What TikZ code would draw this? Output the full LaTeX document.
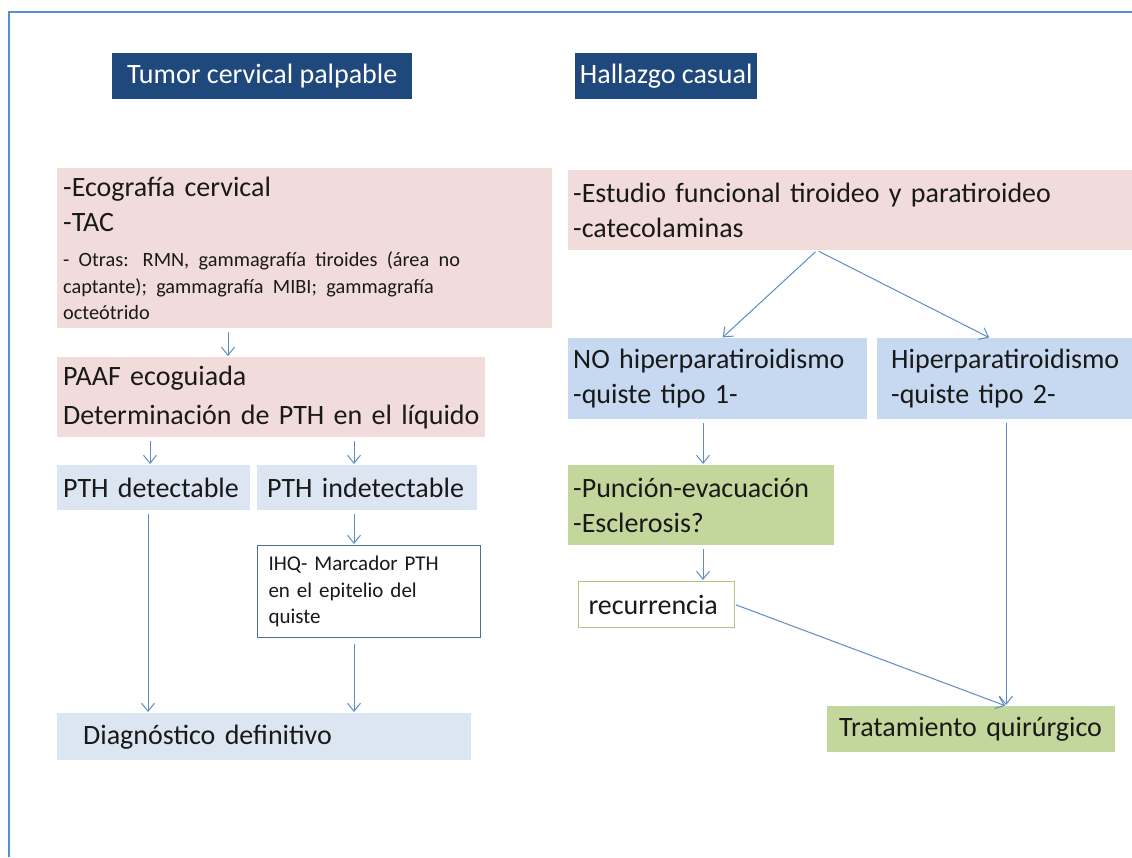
\documentclass[tikz,border=0pt]{standalone}
\usepackage{fontspec}
\setmainfont{Carlito}
\usetikzlibrary{arrows.meta}
\definecolor{ttl}{RGB}{31,73,125}
\definecolor{pinkf}{RGB}{242,220,219}
\definecolor{lblue}{RGB}{220,230,242}
\definecolor{mblue}{RGB}{198,217,241}
\definecolor{greenf}{RGB}{195,214,155}
\definecolor{arrc}{RGB}{95,140,195}
\definecolor{framec}{RGB}{85,142,213}
\definecolor{ihqb}{RGB}{79,110,160}
\definecolor{recb}{RGB}{175,195,130}
\definecolor{txt}{RGB}{25,25,25}
\begin{document}
\begin{tikzpicture}[x=1pt,y=-1pt,
  box/.style={anchor=north west, inner xsep=6pt, inner ysep=0pt, align=left, text=txt, font=\fontsize{28}{35}\selectfont},
  smallbox/.style={box, font=\fontsize{21}{26.5}\selectfont},
  ttlbox/.style={anchor=north west, fill=ttl, text=white, inner sep=0pt, align=center, font=\fontsize{28}{34}\selectfont},
  arr/.style={draw=arrc, line width=1pt, -{Straight Barb[length=8pt,width=13pt]}, shorten <=4pt, shorten >=1pt},
]
\useasboundingbox (0,0) rectangle (1132,857);
\fill[white] (0,0) rectangle (1132,857);
\draw[framec, line width=2pt] (1132,12) -- (9,12) -- (9,857);

% titles
\node[ttlbox, minimum width=300pt, minimum height=46pt] (t1) at (112,53) {Tumor cervical palpable};
\node[ttlbox, minimum width=182pt, minimum height=46pt] (t2) at (575,53) {Hallazgo casual};

% left column
\node[box, fill=pinkf, text width=483pt, minimum height=160pt] (p1) at (57,168)
  {\mbox{-Ecografía cervical}\\\mbox{-TAC}\par\vspace{9pt}{\fontsize{20.3}{26.5}\selectfont \mbox{- Otras: RMN, gammagrafía tiroides (área no}\\\mbox{captante); gammagrafía MIBI; gammagrafía}\\\mbox{octeótrido}\par}};
\node[box, fill=pinkf, text width=416pt, minimum height=80pt, font=\fontsize{28}{39}\selectfont] (paaf) at (57,357)
  {\mbox{PAAF ecoguiada}\\\mbox{Determinación de PTH en el líquido}};
\node[box, fill=lblue, text width=181pt, minimum height=45pt] (det) at (57,465) {\mbox{PTH detectable}};
\node[box, fill=lblue, inner xsep=10pt, text width=200pt, minimum height=45pt] (indet) at (257,465) {\mbox{PTH indetectable}};
\node[smallbox, draw=ihqb, line width=1pt, fill=white, inner xsep=11pt, text width=201pt, minimum height=92pt] (ihq) at (257,545)
  {\mbox{IHQ- Marcador PTH}\\\mbox{en el epitelio del}\\\mbox{quiste}};
\node[box, fill=lblue, text width=402pt, minimum height=47pt] (diag) at (57,713) {\hspace*{20pt}\mbox{Diagnóstico definitivo}};

% right column
\node[box, fill=pinkf, inner xsep=5pt, text width=554pt, minimum height=80pt] (p2) at (568,170)
  {\mbox{-Estudio funcional tiroideo y paratiroideo}\\\mbox{-catecolaminas}};
\node[box, fill=mblue, inner xsep=5pt, text width=289pt, minimum height=81pt] (no) at (568,338)
  {\mbox{NO hiperparatiroidismo}\\\mbox{-quiste tipo 1-}};
\node[box, fill=mblue, inner xsep=14pt, text width=227pt, minimum height=81pt] (hiper) at (877,338)
  {\mbox{Hiperparatiroidismo}\\\mbox{-quiste tipo 2-}};
\node[box, fill=greenf, inner xsep=5pt, text width=256pt, minimum height=80pt] (green) at (568,465)
  {\mbox{-Punción-evacuación}\\\mbox{-Esclerosis?}};
\node[box, draw=recb, line width=1pt, fill=white, inner xsep=10pt, text width=136pt, minimum height=46pt] (rec) at (578,581) {\mbox{recurrencia}};
\node[box, fill=greenf, inner xsep=12pt, text width=264pt, minimum height=46pt] (trat) at (827,706) {\mbox{Tratamiento quirúrgico}};

% connector x positions
\coordinate (xa) at (228,0);
\coordinate (xb) at (150,0);
\coordinate (xc) at (354,0);
\coordinate (xd) at (148,0);
\coordinate (xe) at (817,0);
\coordinate (xf) at (722,0);
\coordinate (xg) at (990,0);
\coordinate (xh) at (703,0);
\coordinate (xi) at (1006,0);

\draw[arr] (p1.south -| xa) -- (paaf.north -| xa);
\draw[arr] (paaf.south -| xb) -- (det.north -| xb);
\draw[arr] (paaf.south -| xc) -- (indet.north -| xc);
\draw[arr] (indet.south -| xc) -- (ihq.north -| xc);
\draw[arr] (det.south -| xd) -- (diag.north -| xd);
\draw[arr, shorten <=6pt] (ihq.south -| xc) -- (diag.north -| xc);
\draw[arr, shorten <=2pt] (p2.south -| xe) -- (no.north -| xf);
\draw[arr, shorten <=2pt] (p2.south -| xe) -- (hiper.north -| xg);
\draw[arr] (no.south -| xh) -- (green.north -| xh);
\draw[arr] (green.south -| xh) -- (rec.north -| xh);
\draw[arr, shorten <=1pt] (rec.east) -- (trat.north -| xi);
\draw[arr] (hiper.south -| xi) -- (trat.north -| xi);
\end{tikzpicture}
\end{document}
